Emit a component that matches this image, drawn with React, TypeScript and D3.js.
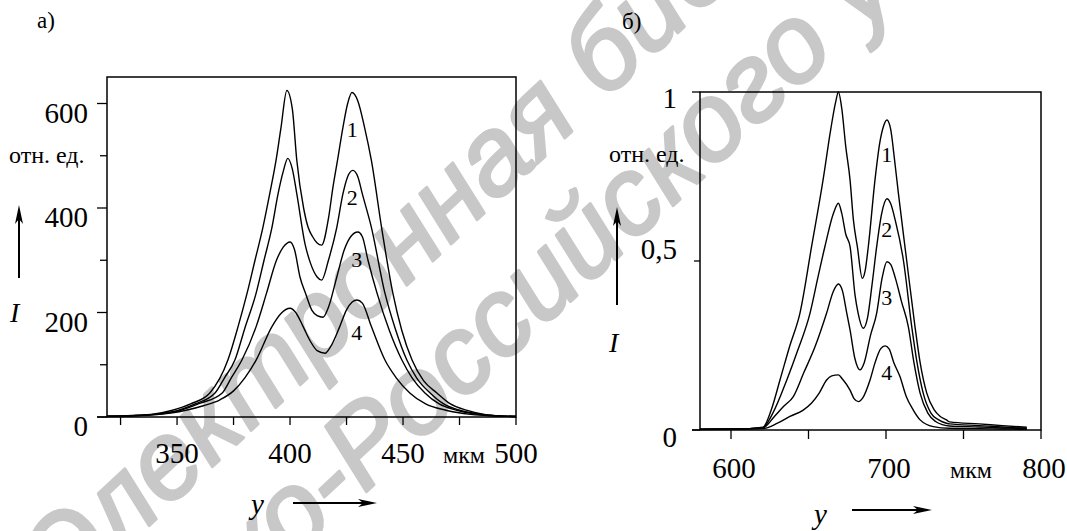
import * as React from 'react'
import * as d3 from 'd3'

// ---- data ----
const leftYTicks = [0, 200, 400, 600]
const leftYMinor = [100, 300, 500]
const leftXTicks = [350, 400, 450, 500]
const leftXMinor = [325, 375, 425, 475]

const rightYTicks = [0, 0.5, 1]
const rightYLabels = ['0', '0,5', '1']
const rightXTicks = [600, 700, 800]
const rightXMinor = [650, 750]

const curveNames = ['1', '2', '3', '4']

const leftCurve1: [number, number][] = [
  [319, 1.5], [330, 3], [340, 6], [348, 13], [356, 25], [364.5, 46], [372.5, 109], [377, 173],
  [381, 237], [384.5, 300], [388, 363], [391, 427], [393.8, 491], [396, 554], [398.6, 625],
  [401, 590], [403, 491], [406, 400], [408, 363], [410, 345], [412, 333], [414, 329], [417, 380],
  [419, 440], [421, 491], [423.4, 554], [425.5, 600], [427.4, 621], [430, 605], [433, 554],
  [436, 491], [440.5, 363], [445.5, 237], [449.5, 165], [454, 109], [459, 70], [465, 46],
  [471, 25], [478, 13], [486, 5], [493, 2], [500, 1],
]
const leftCurve2: [number, number][] = [
  [319, 1.5], [330, 2.5], [340, 5], [350, 12], [358, 25], [366.8, 46], [371, 75], [375.6, 109],
  [380, 170], [385, 237], [388.5, 300], [392, 363], [394.7, 427], [397, 470], [399, 495],
  [401, 475], [403, 427], [406.6, 332], [409, 295], [412, 268], [414, 262], [417, 300],
  [420.7, 363], [423.4, 427], [425.5, 460], [427.8, 472], [430, 460], [432, 427], [436, 363],
  [442, 237], [446.5, 170], [451.7, 109], [456, 75], [462, 46], [468, 25], [475, 13], [485, 5],
  [493, 2], [500, 1],
]
const leftCurve3: [number, number][] = [
  [319, 1.5], [330, 2.5], [340, 5], [350, 11], [360, 26], [370, 46], [374, 75], [378.7, 109],
  [385, 173], [389.6, 237], [394, 300], [397, 325], [400, 335], [402, 320], [404.4, 268],
  [407, 235], [409.7, 204], [412, 194], [414.6, 191], [417, 210], [420.7, 268], [424, 320],
  [427, 346], [430, 354], [432, 345], [434.5, 300], [438.5, 237], [444, 165], [449.5, 109],
  [454, 75], [459.7, 46], [466, 25], [473.8, 13], [483, 5], [492, 2], [500, 1],
]
const leftCurve4: [number, number][] = [
  [319, 1], [330, 2], [340, 4], [348, 8], [354, 13], [362, 22], [369, 33], [375, 50], [380, 75],
  [385, 109], [392, 173], [396, 198], [400, 208], [402.5, 200], [405.8, 173], [409, 145],
  [412, 127], [415.5, 122], [418, 135], [422, 173], [425, 205], [427.5, 220], [429.6, 224],
  [432, 218], [436, 173], [442, 109], [447, 75], [453, 46], [460, 25], [469, 13], [480, 5],
  [490, 2], [500, 1],
]

const rightCurve1: [number, number][] = [
  [580, 0.002], [600, 0.003], [612, 0.004], [620.6, 0.008], [626, 0.06], [631.6, 0.148],
  [638, 0.25], [644.5, 0.346], [652, 0.543], [659.4, 0.74], [664.3, 0.888], [667.5, 0.97],
  [669.3, 1.0], [671.5, 0.95], [674, 0.84], [676.8, 0.74], [679, 0.62], [681.5, 0.543],
  [684.7, 0.449], [686.5, 0.47], [688.6, 0.543], [692.9, 0.74], [696, 0.85], [698.5, 0.9],
  [700.6, 0.917], [703, 0.89], [705.5, 0.8], [708, 0.7], [713.3, 0.503], [718.7, 0.306],
  [722, 0.2], [726.3, 0.109], [731, 0.06], [735, 0.04], [739, 0.03], [741, 0.024], [760, 0.018],
  [775, 0.013], [790.8, 0.008],
]
const rightCurve2: [number, number][] = [
  [580, 0.002], [600, 0.003], [612, 0.004], [620.6, 0.007], [627, 0.05], [636, 0.148],
  [643, 0.235], [651, 0.346], [656, 0.45], [660.6, 0.543], [666, 0.64], [669.3, 0.671],
  [671.5, 0.64], [674, 0.58], [676.8, 0.543], [680, 0.4], [682, 0.346], [685.4, 0.301],
  [688, 0.33], [691, 0.43], [694, 0.543], [697.2, 0.64], [700.6, 0.684], [703, 0.67],
  [706, 0.62], [711.2, 0.503], [716.6, 0.306], [720, 0.2], [724, 0.109], [729, 0.05],
  [734, 0.03], [739, 0.02], [741, 0.018], [760, 0.013], [775, 0.009], [790.8, 0.005],
]
const rightCurve3: [number, number][] = [
  [580, 0.002], [600, 0.003], [612, 0.004], [620.6, 0.006], [628, 0.04], [634, 0.07],
  [640.2, 0.099], [647, 0.17], [654.2, 0.246], [661.7, 0.346], [666, 0.41], [669.3, 0.432],
  [672, 0.41], [674.5, 0.35], [676.8, 0.296], [680, 0.21], [683.2, 0.178], [686, 0.2],
  [690, 0.28], [694, 0.346], [697.5, 0.45], [700.6, 0.498], [703, 0.49], [706, 0.45],
  [710, 0.38], [714.4, 0.306], [718, 0.2], [722, 0.109], [727, 0.05], [732, 0.025], [737, 0.015],
  [741, 0.012], [760, 0.009], [775, 0.006], [790.8, 0.004],
]
const rightCurve4: [number, number][] = [
  [580, 0.001], [600, 0.002], [612, 0.003], [620.6, 0.004], [630, 0.02], [638, 0.04],
  [646.6, 0.059], [652, 0.08], [657, 0.11], [661.7, 0.148], [665, 0.16], [669.3, 0.163],
  [672, 0.15], [676.8, 0.118], [679.5, 0.092], [682.2, 0.084], [685, 0.095], [689.7, 0.148],
  [693, 0.2], [696.5, 0.24], [699.4, 0.249], [702, 0.24], [705, 0.2], [709, 0.158], [713, 0.1],
  [717.6, 0.059], [722, 0.03], [726, 0.017], [730.5, 0.01], [741, 0.005], [760, 0.004],
  [775, 0.003], [790.8, 0.002],
]

const leftCurves = [leftCurve1, leftCurve2, leftCurve3, leftCurve4]
const rightCurves = [rightCurve1, rightCurve2, rightCurve3, rightCurve4]

const serif = '"Liberation Serif", "Times New Roman", serif'

function upArrow(x: number, y1: number, y2: number) {
  return (
    <g>
      <line x1={x} x2={x} y1={y1} y2={y2 + 10} stroke="#000" strokeWidth={2} />
      <path d={`M${x},${y2} L${x - 4},${y2 + 19} L${x},${y2 + 14} L${x + 4},${y2 + 19} Z`} fill="#000" />
    </g>
  )
}

function rightArrow(x1: number, x2: number, y: number) {
  return (
    <g>
      <line x1={x1} x2={x2 - 10} y1={y} y2={y} stroke="#000" strokeWidth={2} />
      <path d={`M${x2},${y} L${x2 - 19},${y - 4} L${x2 - 14},${y} L${x2 - 19},${y + 4} Z`} fill="#000" />
    </g>
  )
}

export default function App() {
  // left panel
  const lx = d3.scaleLinear().domain([319, 500]).range([107, 516])
  const ly = d3.scaleLinear().domain([0, 600]).range([417, 103.5])
  const lTop = 77
  // right panel
  const rx = d3.scaleLinear().domain([580, 800]).range([700, 1041])
  const ry = d3.scaleLinear().domain([0, 1]).range([430, 92])

  const leftLine = d3.line<[number, number]>()
    .x(d => lx(d[0]))
    .y(d => ly(d[1]))
    .curve(d3.curveMonotoneX)
  const rightLine = d3.line<[number, number]>()
    .x(d => rx(d[0]))
    .y(d => ry(d[1]))
    .curve(d3.curveMonotoneX)

  // curve numbers sit just under the second peak
  const leftNumY = [137, 205, 267, 340]
  const rightNumY = [162, 237, 305, 380]
  const rightYDy = [17, -2, 16]

  return (
    <svg width={1067} height={531} style={{ position: 'absolute', left: 0, top: 0, background: '#fff' }}
      fontFamily={serif}>
      <rect width={1067} height={531} fill="#fff" />

      {/* watermark */}
      <g fill="#c8c8c8" stroke="#c8c8c8" strokeWidth={3} strokeLinejoin="round"
        fontFamily='"Liberation Sans", Arial, sans-serif' fontSize={110} fontStyle="italic">
        <text transform="translate(65,604) rotate(-43)">Электронная библиотека</text>
        <text transform="translate(364,494) rotate(-43)" textAnchor="end">Белорусско-</text>
        <text transform="translate(364,494) rotate(-43)">Российского университета</text>
      </g>

      {/* ---------- panel а) ---------- */}
      <text x={37} y={28} fontSize={23}>а)</text>
      <rect x={lx(319)} y={lTop} width={lx(500) - lx(319)} height={ly(0) - lTop}
        fill="none" stroke="#000" strokeWidth={1.5} />
      <line x1={97} x2={lx(319)} y1={ly(0)} y2={ly(0)} stroke="#000" strokeWidth={1.5} />
      {leftYTicks.map(t => (
        <g key={'ly' + t}>
          <line x1={97} x2={lx(319)} y1={ly(t)} y2={ly(t)} stroke="#000" strokeWidth={1.3} />
          <text x={88} y={ly(t) + 19} textAnchor="end" fontSize={29}>{t}</text>
        </g>
      ))}
      {leftYMinor.map(t => (
        <line key={'lym' + t} x1={100} x2={lx(319)} y1={ly(t)} y2={ly(t)} stroke="#000" strokeWidth={1.3} />
      ))}
      {leftXTicks.concat(leftXMinor).map(t => (
        <line key={'lx' + t} x1={lx(t)} x2={lx(t)} y1={ly(0)} y2={ly(0) + 8} stroke="#000" strokeWidth={1.3} />
      ))}
      {leftXTicks.map(t => (
        <text key={'lxl' + t} x={lx(t)} y={463} textAnchor="middle" fontSize={29}>{t}</text>
      ))}
      <text x={443} y={463} fontSize={24}>мкм</text>
      <text x={9} y={163} fontSize={24}>отн. ед.</text>
      {upArrow(19, 278, 205)}
      <text x={10} y={322} fontSize={28} fontStyle="italic">I</text>
      <text x={251} y={514} fontSize={29} fontStyle="italic">y</text>
      {rightArrow(293, 377, 503)}

      {leftCurves.map((c, i) => (
        <path key={'lc' + i} d={leftLine(c) ?? ''} fill="none" stroke="#000" strokeWidth={1.4} />
      ))}
      {curveNames.map((n, i) => (
        <text key={'ln' + n} x={lx(i < 2 ? 427.5 : 429.5)} y={leftNumY[i]} textAnchor="middle" fontSize={22}>{n}</text>
      ))}

      {/* ---------- panel б) ---------- */}
      <text x={622} y={29} fontSize={23}>б)</text>
      <rect x={rx(580)} y={ry(1)} width={rx(800) - rx(580)} height={ry(0) - ry(1)}
        fill="none" stroke="#000" strokeWidth={1.5} />
      <line x1={692} x2={rx(580)} y1={ry(0)} y2={ry(0)} stroke="#000" strokeWidth={1.5} />
      {rightYTicks.map((t, i) => (
        <g key={'ry' + t}>
          <line x1={t === 0.5 ? 694 : 692} x2={rx(580)} y1={ry(t)} y2={ry(t)} stroke="#000" strokeWidth={1.3} />
          <text x={677} y={ry(t) + rightYDy[i]} textAnchor="end" fontSize={29}>{rightYLabels[i]}</text>
        </g>
      ))}
      {rightXTicks.concat(rightXMinor).map(t => (
        <line key={'rx' + t} x1={rx(t)} x2={rx(t)} y1={ry(0)} y2={ry(0) + 9} stroke="#000" strokeWidth={1.3} />
      ))}
      {rightXTicks.map(t => (
        <text key={'rxl' + t} x={rx(t) + 3} y={478} textAnchor="middle" fontSize={29}>{t}</text>
      ))}
      <text x={950} y={478} fontSize={24}>мкм</text>
      <text x={609} y={162} fontSize={24}>отн. ед.</text>
      {upArrow(617, 305, 207)}
      <text x={609} y={352} fontSize={28} fontStyle="italic">I</text>
      <text x={814} y={524} fontSize={29} fontStyle="italic">y</text>
      {rightArrow(852, 932, 510)}

      {rightCurves.map((c, i) => (
        <path key={'rc' + i} d={rightLine(c) ?? ''} fill="none" stroke="#000" strokeWidth={1.4} />
      ))}
      {curveNames.map((n, i) => (
        <text key={'rn' + n} x={rx(700.5)} y={rightNumY[i]} textAnchor="middle" fontSize={22}>{n}</text>
      ))}
    </svg>
  )
}
